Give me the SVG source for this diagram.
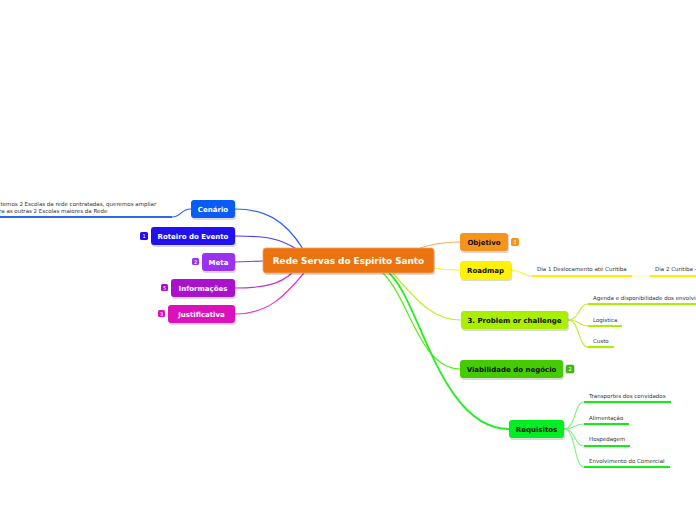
<svg xmlns="http://www.w3.org/2000/svg" width="696" height="520" viewBox="0 0 696 520">
<defs>
<style>
.n{font-family:"DejaVu Sans",Verdana,sans-serif;font-weight:bold;font-size:7px;text-anchor:middle}
.w{fill:#fff}
.k{fill:#111}
.c{font-family:"DejaVu Sans",Verdana,sans-serif;font-size:5.5px;fill:#333}
.b{font-family:"DejaVu Sans",sans-serif;font-size:5px;fill:#fff;text-anchor:middle}
.sh{fill:#000;opacity:0.15}
.l{fill:none;stroke-width:1.2}
.u{fill:none;stroke-width:2.2}
</style>
</defs>
<rect width="696" height="520" fill="#fff"/>
<g id="connectors">
<path class="l" stroke="#2a66f0" d="M303,249 C285,220 265,209 235,209"/>
<path class="l" stroke="#4a3cf0" d="M298,250 C280,238 265,236 235,236"/>
<path class="l" stroke="#8f33f0" d="M263,261 L235,262"/>
<path class="l" stroke="#bb33dd" d="M292,273 C280,284 265,288 235,288"/>
<path class="l" stroke="#ee33cc" d="M304,273 C285,296 268,314 235,314"/>
<path class="l" stroke="#f7a548" d="M420,248 C435,243 445,242 460,242"/>
<path class="l" stroke="#ffee44" d="M434,268 C445,270 450,270 460,270"/>
<path class="l" stroke="#c0ee33" d="M393,273 C420,305 435,320 461,320"/>
<path class="l" stroke="#55ee11" d="M383,273 C410,300 420,369 460,369"/>
<path fill="none" stroke-width="1.8" stroke="#22ee22" d="M389,273 C420,300 440,429 509,429"/>
<!-- children -->
<path class="l" stroke="#2a66f0" d="M191,209 C180,209 182,217 172,217"/>
<path class="u" stroke="#2a66f0" d="M0,217 L172,217"/>
<path class="l" stroke="#ffee44" d="M511,270 C522,270 522,276 532,276"/>
<path class="u" stroke="#ffee00" d="M532,276 L632,276"/>
<path class="l" stroke="#ffee44" d="M632,276 L650,276" opacity="0.3"/>
<path class="u" stroke="#ffee00" d="M650,276 L696,276"/>
<path class="l" stroke="#c0ee33" d="M568,320 C580,320 578,304 588,304"/>
<path class="l" stroke="#c0ee33" d="M568,320 C580,320 578,326 588,326"/>
<path class="l" stroke="#c0ee33" d="M568,320 C580,320 578,347 588,347"/>
<path class="u" stroke="#aaee00" d="M588,304 L696,304"/>
<path class="u" stroke="#aaee00" d="M588,326 L622,326"/>
<path class="u" stroke="#aaee00" d="M588,347 L614,347"/>
<path class="l" stroke="#88f088" d="M564,429 C576,429 574,402 584,402"/>
<path class="l" stroke="#88f088" d="M564,429 C576,429 574,424 584,424"/>
<path class="l" stroke="#88f088" d="M564,429 C576,429 574,446 584,446"/>
<path class="l" stroke="#88f088" d="M564,429 C576,429 574,467 584,467"/>
<path class="u" stroke="#11ee11" d="M584,402 L671,402"/>
<path class="u" stroke="#11ee11" d="M584,424 L629,424"/>
<path class="u" stroke="#11ee11" d="M584,446 L630,446"/>
<path class="u" stroke="#11ee11" d="M584,467 L670,467"/>
</g>
<g id="center">
<rect class="sh" x="264" y="250" width="171" height="25" rx="3"/>
<rect x="263" y="248" width="171" height="25" rx="3" fill="#ec7410" stroke="#f4a060" stroke-width="0.8"/>
<text class="n w" x="348.5" y="264.2" style="font-size:8.9px">Rede Servas do Espirito Santo</text>
</g>
<g id="cenario">
<rect class="sh" x="192" y="201" width="44" height="19" rx="3"/>
<rect x="191" y="200" width="44" height="18" rx="3" fill="#0b5cf6"/>
<text class="n w" x="213" y="211.5">Cenário</text>
<text class="c" x="0.5" y="206">temos 2 Escolas da rede contratadas, queremos ampliar</text>
<text class="c" x="-1" y="213">ra as outras 2 Escolas maiores da Rede</text>
</g>
<g id="roteiro">
<rect class="sh" x="152" y="228" width="84" height="19" rx="3"/>
<rect x="151" y="227" width="84" height="18" rx="3" fill="#2211ee"/>
<text class="n w" x="193" y="238.5">Roteiro do Evento</text>
<rect x="140" y="232" width="8" height="8" rx="1.5" fill="#2211ee"/>
<text class="b" x="144" y="238">1</text>
</g>
<g id="meta">
<rect class="sh" x="203" y="254" width="33" height="19" rx="3"/>
<rect x="202" y="253" width="33" height="18" rx="3" fill="#9933f0"/>
<text class="n w" x="218.5" y="264.5">Meta</text>
<rect x="192" y="258" width="7" height="7" rx="1.5" fill="#9933f0"/>
<text class="b" x="195.5" y="263.5">2</text>
</g>
<g id="informacoes">
<rect class="sh" x="172" y="280" width="64" height="19" rx="3"/>
<rect x="171" y="279" width="64" height="18" rx="3" fill="#aa11cc"/>
<text class="n w" x="203" y="290.5">Informações</text>
<rect x="161" y="284" width="7" height="7" rx="1.5" fill="#aa11cc"/>
<text class="b" x="164.5" y="289.5">5</text>
</g>
<g id="justificativa">
<rect class="sh" x="169" y="306" width="67" height="19" rx="3"/>
<rect x="168" y="305" width="67" height="18" rx="3" fill="#dd11bb"/>
<text class="n w" x="201.5" y="316.5">Justificativa</text>
<rect x="158" y="310" width="7" height="7" rx="1.5" fill="#dd11bb"/>
<text class="b" x="161.5" y="315.5">3</text>
</g>
<g id="objetivo">
<rect class="sh" x="461" y="234" width="48" height="19" rx="3"/>
<rect x="460" y="233" width="48" height="18" rx="3" fill="#f7941d"/>
<text class="n k" x="484" y="244.5">Objetivo</text>
<rect x="511" y="238" width="8" height="8" rx="1.5" fill="#f7941d"/>
<text class="b" x="515" y="244">1</text>
</g>
<g id="roadmap">
<rect class="sh" x="461" y="262" width="51" height="19" rx="3"/>
<rect x="460" y="261" width="51" height="18" rx="3" fill="#fff200"/>
<text class="n k" x="485.5" y="272.5">Roadmap</text>
<text class="c" x="537" y="271">Dia 1 Deslocamento até Curitiba</text>
<text class="c" x="655" y="271">Dia 2 Curitiba -</text>
</g>
<g id="problem">
<rect class="sh" x="462" y="312" width="107" height="19" rx="3"/>
<rect x="461" y="311" width="107" height="18" rx="3" fill="#aaee00"/>
<text class="n k" x="514.5" y="322.5">3. Problem or challenge</text>
<text class="c" x="593" y="299.5">Agenda e disponibilidade dos envolvidos</text>
<text class="c" x="593" y="321.5">Logística</text>
<text class="c" x="593" y="342.5">Custo</text>
</g>
<g id="viabilidade">
<rect class="sh" x="461" y="361" width="103" height="19" rx="3"/>
<rect x="460" y="360" width="103" height="18" rx="3" fill="#44cc00"/>
<text class="n k" x="511.5" y="371.5">Viabilidade do negócio</text>
<rect x="566" y="365" width="8" height="8" rx="1.5" fill="#44bb11" stroke="#338811" stroke-width="0.5"/>
<text class="b" x="570" y="371">2</text>
</g>
<g id="requisitos">
<rect class="sh" x="510" y="421" width="55" height="19" rx="3"/>
<rect x="509" y="420" width="55" height="18" rx="3" fill="#00ee22"/>
<text class="n k" x="536.5" y="431.5">Requisitos</text>
<text class="c" x="589" y="397.5">Transportes dos convidados</text>
<text class="c" x="589" y="419.5">Alimentação</text>
<text class="c" x="589" y="440.5">Hospedagem</text>
<text class="c" x="589" y="462.5">Envolvimento do Comercial</text>
</g>
</svg>
